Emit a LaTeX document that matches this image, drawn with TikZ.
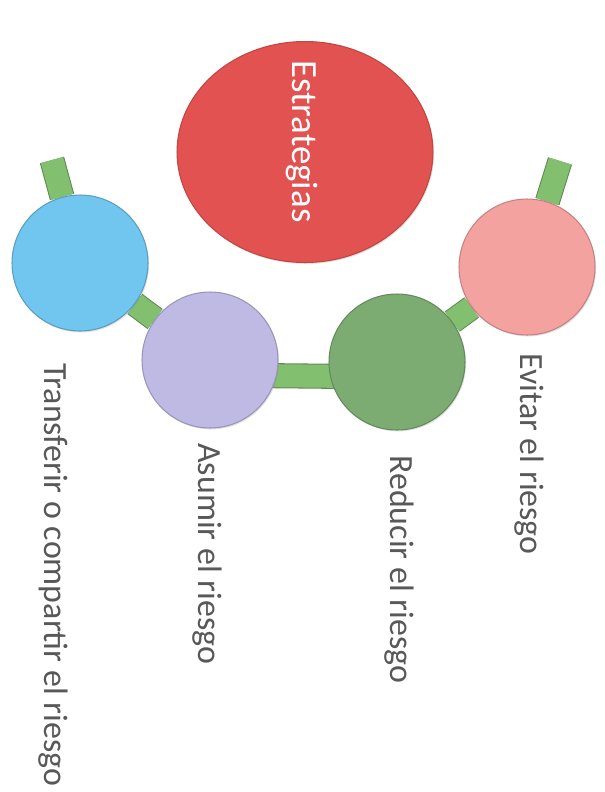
\documentclass[tikz,border=0pt]{standalone}
\usepackage{fontspec}
\setmainfont{Carlito}
\usetikzlibrary{positioning, shapes.geometric, backgrounds, shadows}
\definecolor{myred}{RGB}{226,82,80}
\definecolor{myblue}{RGB}{112,198,238}
\definecolor{mylilac}{RGB}{190,186,228}
\definecolor{mygreen}{RGB}{124,172,114}
\definecolor{mypink}{RGB}{244,162,160}
\definecolor{mystem}{RGB}{130,192,112}
\definecolor{mystemedge}{RGB}{96,140,84}
\definecolor{mytext}{RGB}{88,88,88}

\begin{document}
\begin{tikzpicture}[x=0.02cm, y=-0.02cm,
  bead/.style={circle, minimum size=2.72cm, inner sep=0pt, line width=0.6pt,
    drop shadow={opacity=0.25, shadow xshift=0.6pt, shadow yshift=-0.8pt}},
  stem/.style={draw=mystemedge, line width=0.6pt, double=mystem, double distance=0.46cm},
  caption/.style={rotate=-90, anchor=base west, inner sep=0pt, text=mytext,
    font=\fontsize{19.3}{23}\selectfont}]

\useasboundingbox (0,0) rectangle (605,792);

% Big ellipse - Estrategias
\node[ellipse, fill=myred, draw=myred!85!black, line width=0.6pt, minimum width=5.12cm, minimum height=4.42cm,
  drop shadow={opacity=0.25, shadow xshift=0.6pt, shadow yshift=-0.8pt}] (estr) at (305,152) {};
\node[rotate=-90, anchor=base west, inner sep=0pt, text=white, font=\fontsize{21}{25}\selectfont] (estrtxt) at (292,60) {Estrategias};

% Beads
\node[bead, fill=myblue, draw=myblue!80!black] (transfer) at (80,263) {};
\node[bead, fill=mylilac, draw=mylilac!80!black] (asumir) at (210,360) {};
\node[bead, fill=mygreen, draw=mygreen!80!black] (reducir) at (397,362) {};
\node[bead, fill=mypink, draw=mypink!80!black] (evitar) at (527,267) {};

% Stem ends
\coordinate (transfertop) at (52,160);
\coordinate (evitartop) at (560,161);

% Stems behind the beads
\begin{scope}[on background layer]
\draw[stem] (transfer) -- (transfertop);
\draw[stem] (transfer) -- (asumir);
\draw[stem] ([yshift=-0.3cm]asumir.center) -- ([yshift=-0.3cm]reducir.center);
\draw[stem] (reducir) -- (evitar);
\draw[stem] (evitar) -- (evitartop);
\end{scope}

% Labels
\node[caption] (transfertxt) at (45,363) {Transferir o compartir el riesgo};
\node[caption] (asumirtxt) at (198,443) {Asumir el riesgo};
\node[caption] (reducirtxt) at (390,455) {Reducir el riesgo};
\node[caption] (evitartxt) at (520,353) {Evitar el riesgo};

\end{tikzpicture}
\end{document}
